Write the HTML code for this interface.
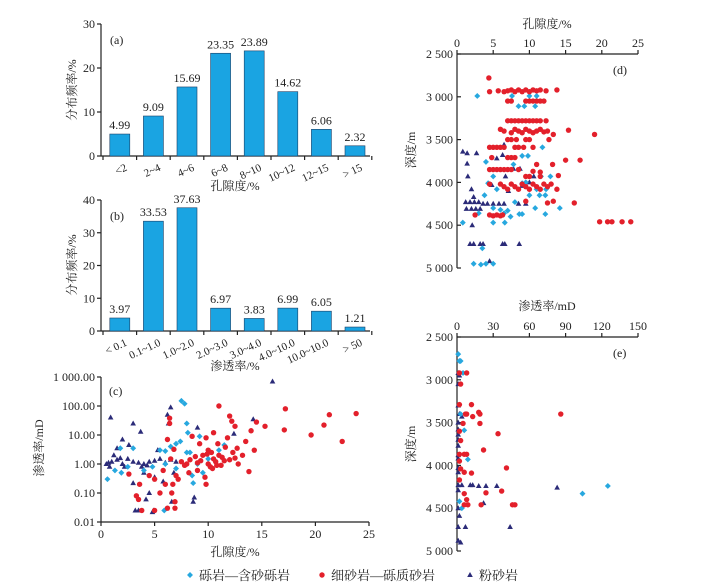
<!DOCTYPE html>
<html><head><meta charset="utf-8"><style>
body{margin:0;background:#fff}
svg{display:block;font-family:"Liberation Serif","Noto Serif CJK SC",serif}
</style></head><body>
<svg id="s" width="706" height="585" viewBox="0 0 706 585"></svg>
<script>
const NS="http://www.w3.org/2000/svg";
const svg=document.getElementById('s');
// ---- data ----
const poroCats=["<2","2~4","4~6","6~8","8~10","10~12","12~15","> 15"];
const poroVals=[4.99,9.09,15.69,23.35,23.89,14.62,6.06,2.32];
const permCats=["< 0.1","0.1~1.0","1.0~2.0","2.0~3.0","3.0~4.0","4.0~10.0","10.0~10.0","> 50"];
const permVals=[3.97,33.53,37.63,6.97,3.83,6.99,6.05,1.21];
const aTicks=[0,10,20,30];
const bTicks=[0,10,20,30,40];
const cYTicks=[0.01,0.1,1,10,100,1000];
const cYLabels=["0.01","0.10","1.00","10.00","100.00","1 000.00"];
const cXTicks=[0,5,10,15,20,25];
const dDepthTicks=[2500,3000,3500,4000,4500,5000];
const dDepthLabels=["2 500","3 000","3 500","4 000","4 500","5 000"];
const dXTicks=[0,5,10,15,20,25];
const eXTicks=[0,30,60,90,120,150];
// scatter c: [porosity, permeability]
const cCyan=[[0.6,0.3],[1.3,0.6],[1.9,0.5],[1.8,3.5],[3.0,3.5],[2.5,0.8],[7.5,150],[7.8,120],[8,25],[8.1,12],[7.4,6],[7.0,5],[6.5,4],[5.5,3],[6.0,2.8],[8.0,2.5],[8.3,2.5],[9.2,9],[8.6,0.22],[5.9,0.025],[4.8,0.8],[7,0.7],[9,1],[10,1.5],[11,3],[11.5,4.5],[6,1],[4,0.6],[8.5,0.4],[9.5,0.5]];
const cRed=[[11,100],[17.2,80],[21.3,50],[23.8,55],[20.8,22],[17.1,15],[19.6,10],[22.5,6],[15.3,20],[14.5,28],[14,14],[12,45],[12.2,30],[12.5,20],[11.8,8],[13.5,6],[14.3,3],[13.8,0.55],[10.5,12],[12.7,3.5],[9.8,8],[9.2,5],[10,3],[8.5,9],[6.4,38],[6.4,25],[6.2,7],[6.8,3.2],[6.5,1.5],[7.5,1.2],[8,1],[9,1.1],[10,1],[10.5,1.5],[11,2],[11.5,1.3],[12,1.4],[9.5,2],[8.8,1.8],[10.2,0.8],[10.8,0.9],[7,0.4],[6.6,0.1],[6.9,0.05],[6.9,0.03],[6.0,0.2],[5.5,0.1],[5.0,0.025],[3.8,0.025],[3.3,0.08],[3.5,0.06],[3.6,0.2],[2.6,0.45],[5,0.3],[5.8,0.6],[7.2,0.3],[9.8,0.2],[8.2,0.5],[9.7,0.35],[6.7,0.2],[4.5,0.4],[11.2,0.9],[12.5,1.6],[10.3,2.5],[9,0.6],[6.2,0.03],[12.8,1],[13.2,2],[9.3,1.3],[10.7,1.2],[11.3,1.7],[8.3,1.4],[9.9,2.2],[10.4,0.7],[7.8,0.9],[12.3,2.5],[11.6,3.8],[10.9,5]];
const cNavy=[[16,700],[0.9,40],[3,25],[3.7,13],[6.5,90],[6.2,50],[6.3,25],[9,18],[14.2,35],[12.4,11],[2,7],[2.6,4.5],[1.5,3.5],[1.2,2],[0.5,1],[1,1.2],[1.5,1.4],[2,1],[2.5,1.5],[3,1.2],[3.5,1.1],[4,1],[4.5,1.2],[5,1.3],[5.5,1.5],[6,1.1],[6.5,1.4],[7,1.2],[0.8,0.8],[3.2,0.025],[3.5,0.025],[4.8,0.022],[4.9,0.025],[6.6,0.05],[8.7,0.07],[8.6,0.05],[4.5,0.1],[4.2,0.06],[3,0.22],[4,0.5],[5,0.35],[5.3,3],[5.8,0.25],[6.8,0.5],[2.2,0.8],[3.8,0.8],[1.8,1.6],[0.7,1.1],[4.3,0.9]];
// scatter d: [porosity, depth]
const dRed=[[4.4,2780],[4.5,2940],[5.7,2930],[6.5,2940],[7,2930],[7.5,2920],[8,2940],[8.5,2920],[9,2940],[9.5,2920],[10,2940],[10.5,2920],[11,2930],[11.5,2920],[12.3,2930],[13.8,2920],[7,3050],[7.5,3050],[9.5,3050],[10,3050],[10.5,3050],[11,3050],[11.5,3050],[12,3050],[7,3280],[7.5,3280],[8,3280],[8.5,3280],[9,3280],[9.5,3280],[10,3280],[10.5,3280],[11,3280],[11.5,3280],[12.3,3280],[6,3380],[6.5,3400],[7.5,3420],[8,3380],[8.5,3400],[9,3420],[9.5,3380],[10,3400],[10.5,3420],[11,3400],[11.5,3380],[12,3410],[12.5,3400],[13.3,3440],[15.4,3390],[19,3440],[7,3500],[7.5,3500],[8.2,3500],[9.5,3500],[10,3500],[12.7,3500],[4.5,3590],[5,3590],[5.5,3590],[6,3590],[6.5,3590],[8,3590],[8.5,3590],[9.2,3590],[10.5,3590],[4.8,3710],[7,3710],[7.5,3710],[8,3710],[15,3740],[17,3740],[11,3790],[13.2,3790],[4.5,3850],[5,3850],[5.5,3850],[6,3850],[6.5,3850],[7,3850],[7.5,3850],[8.5,3850],[10.5,3870],[11.5,3880],[9.5,3930],[10,3930],[11.5,3930],[14,3920],[4.5,4020],[6,4020],[6.5,4050],[7,4080],[7.5,4020],[8,4050],[8.5,4080],[9,4020],[9.5,4050],[10,4080],[10.5,4020],[11,4050],[11.5,4080],[12,4020],[12.5,4050],[13,4020],[13.8,4080],[9.5,4220],[12.5,4240],[13.3,4220],[16.2,4240],[2.5,4380],[4.5,4380],[5,4390],[5.5,4380],[6,4390],[6.3,4380],[19.7,4460],[20.8,4460],[21.4,4460],[22.8,4460],[24,4460]];
const dCyan=[[2.8,2990],[7.6,2990],[10,2990],[11,2990],[8.5,3110],[9.3,3110],[10.8,3110],[11.8,3590],[9,3690],[9.8,3690],[4,3760],[7.8,3790],[11.6,3930],[12.9,3930],[5,3930],[4.3,4010],[9.5,4000],[9,4010],[5.5,4080],[11,4080],[12.3,4080],[3.8,4150],[10,4150],[11.4,4150],[12.2,4150],[8,4230],[5,4300],[7,4330],[10.8,4300],[14.2,4300],[3,4360],[6.5,4360],[8.6,4370],[9,4370],[12.2,4370],[0.8,4470],[5,4470],[6.6,4470],[3.5,4770],[2.3,4950],[3.3,4960],[4,4950],[5,4950],[6,4320],[7.4,4400]];
const dNavy=[[0.8,3640],[1.4,3660],[2.7,3660],[1.4,3780],[1.5,3930],[2,4080],[2.3,4170],[1.2,4230],[1.8,4230],[2.4,4230],[3,4230],[3.6,4250],[4.2,4250],[5,4250],[1.3,4310],[2,4310],[2.6,4310],[3.2,4310],[4.8,4030],[5.5,3720],[6.3,3680],[6.5,3560],[7.8,3840],[8.7,3840],[10,4000],[10.6,3930],[9,4040],[5.8,4250],[6.5,4250],[8.5,4250],[9.5,4250],[2.1,4500],[1.8,4720],[2.3,4720],[3.2,4720],[3.6,4720],[6.3,4720],[6.6,4720],[8.6,4720],[4.5,4920],[7.1,4100],[6.7,3930]];
// scatter e: [permeability, depth]
const eRed=[[8,2920],[2,2920],[3,3050],[12,3290],[2,3290],[18,3380],[19,3400],[13,3430],[7,3400],[8,3400],[86,3400],[5,3510],[19,3510],[34,3630],[3,3710],[22,3820],[6,3870],[8,3870],[2,3870],[41,4030],[6,4080],[12,4090],[2,4170],[37,4300],[24,4320],[6,4330],[8,4400],[20,4460],[9,4460],[6,4460],[46,4460],[48,4460],[3,4040],[2,3950],[2,3600]];
const eCyan=[[1,2700],[2,2780],[3,2780],[5,2920],[6,3590],[9,3930],[125,4240],[104,4330],[2,4420],[4,4500],[3,3400]];
const eNavy=[[1,2920],[2,2950],[1,3050],[1,3300],[2,3400],[4,3430],[1,3500],[1,3580],[1,3640],[1,3700],[1,3770],[1,3880],[1,3920],[1,4030],[1,4080],[1,4230],[4,4230],[11,4230],[13,4230],[18,4240],[24,4240],[33,4240],[83,4260],[1,4290],[22,4440],[1,4500],[2,4590],[1,4720],[7,4720],[44,4720],[1,4880],[3,4900]];

const RED="#e3202b",CYAN="#27a8df",NAVY="#2b2b78",BAR="#1aa4e2";
function el(tag,attrs,parent){const e=document.createElementNS(NS,tag);for(const k in attrs)e.setAttribute(k,attrs[k]);(parent||svg).appendChild(e);return e;}
function txt(s,x,y,opt,parent){const t=el('text',Object.assign({x:x,y:y,'font-size':12,fill:'#222'},opt||{}),parent);t.textContent=s;return t;}
function line(x1,y1,x2,y2,p){return el('line',{x1,y1,x2,y2,stroke:'#222','stroke-width':1.2},p);}

function barPanel(name,cats,vals,ticks,ymax,top,bottom,label,xlabel,labelY,xlabelY){
  const g=el('g',{});
  
  
  const x0=101,x1=370,step=33.6;
  const ys=v=>bottom-(v/ymax)*(bottom-top);
  line(x0,top,x0,bottom,g);line(x0,bottom,x1,bottom,g);
  ticks.forEach(t=>{const y=ys(t);line(x0-4,y,x0,y,g);
    const tl=txt(String(t),x0-6,y+4,{'text-anchor':'end','font-size':12},g);
    });
  for(let i=0;i<=cats.length;i++){const x=x0+2+i*step;line(x,bottom,x,bottom+4,g);}
  cats.forEach((c,i)=>{
    const cx=x0+2+step*(i+0.5);const y=ys(vals[i]);
    const r=el('rect',{x:cx-10,y:y,width:20,height:bottom-y,fill:BAR,stroke:'#1b3f66','stroke-width':0.6},g);
    
    
    const vl=txt(vals[i].toFixed(2),cx,y-5,{'text-anchor':'middle','font-size':12},g);
    
    const cl=txt(c,cx+8,bottom+14,{'text-anchor':'end','font-size':11,transform:`rotate(-25 ${cx+8} ${bottom+14})`},g);
    
  });
  const pl=txt(label,110,top+20,{'font-size':12},g);
  const yt=txt('分布频率/%',0,0,{'text-anchor':'middle','font-size':12,transform:`translate(76 ${labelY}) rotate(-90)`},g);
  
  const xt=txt(xlabel,235,xlabelY,{'text-anchor':'middle','font-size':12},g);
  
}
barPanel('porosity-histogram',poroCats,poroVals,aTicks,30,24,156,'(a)','孔隙度/%',90,190);
barPanel('permeability-histogram',permCats,permVals,bTicks,40,200,331,'(b)','渗透率/%',265,370);

function mark(type,x,y,g){
  let m;
  if(type==='red') m=el('circle',{cx:x,cy:y,r:2.7,fill:RED},g);
  else if(type==='cyan') m=el('rect',{x:x-2.1,y:y-2.1,width:4.2,height:4.2,fill:CYAN,transform:`rotate(45 ${x} ${y})`},g);
  else m=el('polygon',{points:`${x},${y-3} ${x-2.8},${y+2} ${x+2.8},${y+2}`,fill:NAVY},g);
  
  
}
// panel c
(function(){
  const g=el('g',{});
  const x0=101,x1=369,yT=377,yB=522;
  const xs=v=>x0+v/25*(x1-x0);
  const ys=v=>yB-(Math.log10(v)+2)/5*(yB-yT);
  line(x0,yT,x0,yB,g);line(x0,yB,x1,yB,g);
  cYTicks.forEach((t,i)=>{const y=ys(t);line(x0-4,y,x0,y,g);
    const l=txt(cYLabels[i],x0-6,y+4,{'text-anchor':'end','font-size':12},g);});
  cXTicks.forEach(t=>{const x=xs(t);line(x,yB,x,yB+4,g);
    const l=txt(String(t),x,yB+16,{'text-anchor':'middle','font-size':12},g);});
  const pl=txt('(c)',109,395,{'font-size':12},g);
  const yt=txt('渗透率/mD',0,0,{'text-anchor':'middle','font-size':12,transform:'translate(43 448) rotate(-90)'},g);
  const xt=txt('孔隙度/%',235,556,{'text-anchor':'middle','font-size':12},g);
  cNavy.forEach(p=>mark('navy',xs(p[0]),ys(p[1]),g));
  cCyan.forEach(p=>mark('cyan',xs(p[0]),ys(p[1]),g));
  cRed.forEach(p=>mark('red',xs(p[0]),ys(p[1]),g));
})();
function depthPanel(name,xmax,xticks,yT,yB,label,title,titleY,red,cyan,navy,ytitleY){
  const g=el('g',{});
  const x0=457,x1=638;
  const xs=v=>x0+v/xmax*(x1-x0);
  const ys=v=>yT+(v-2500)/2500*(yB-yT);
  line(x0,yT,x0,yB,g);line(x0,yT,x1,yT,g);
  xticks.forEach(t=>{const x=xs(t);line(x,yT-4,x,yT,g);
    const l=txt(String(t),x,yT-7,{'text-anchor':'middle','font-size':12},g);});
  dDepthTicks.forEach((t,i)=>{const y=ys(t);line(x0,y,x0+4,y,g);
    const l=txt(dDepthLabels[i],x0-4,y+4,{'text-anchor':'end','font-size':12},g);});
  const pl=txt(label,613,yT+20,{'font-size':12},g);
  const xt=txt(title,547,titleY,{'text-anchor':'middle','font-size':12},g);
  const yt=txt('深度/m',0,0,{'text-anchor':'middle','font-size':12,transform:`translate(415 ${ytitleY}) rotate(-90)`},g);
  navy.forEach(p=>mark('navy',xs(p[0]),ys(p[1]),g));
  cyan.forEach(p=>mark('cyan',xs(p[0]),ys(p[1]),g));
  red.forEach(p=>mark('red',xs(p[0]),ys(p[1]),g));
}
depthPanel('porosity-depth-scatter',25,dXTicks,54,268,'(d)','孔隙度/%',28,dRed,dCyan,dNavy,150);
depthPanel('permeability-depth-scatter',150,eXTicks,337,551,'(e)','渗透率/mD',310,eRed,eCyan,eNavy,444);
// legend
(function(){
  const g=el('g',{});
  const items=[['cyan',190,'砾岩—含砂砾岩'],['red',322,'细砂岩—砾质砂岩'],['navy',470,'粉砂岩']];
  items.forEach(it=>{
    const e=el('g',{},g);
    
    
    mark(it[0],it[1],575,e);
    txt(it[2],it[1]+9,580,{'font-size':13},e);
  });
})();
</script>
</body></html>
